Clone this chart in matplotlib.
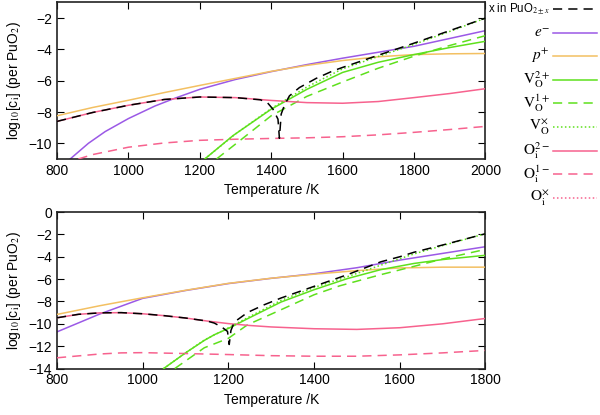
import numpy as np
import matplotlib
matplotlib.use("Agg")
import matplotlib.pyplot as plt
from matplotlib.lines import Line2D

plt.rcParams["font.family"] = ["Liberation Sans", "DejaVu Sans"]
plt.rcParams["mathtext.fontset"] = "stix"

# ---------------- top panel (T = 800..2000 K) ----------------
T_x_top = [800, 900, 1000, 1100, 1200, 1300, 1370, 1390, 1405, 1419, 1423, 1428, 1437, 1451,
           1479, 1526, 1572, 1600, 1700, 1800, 1900, 2000]
x_top = [-8.60, -8.03, -7.57, -7.20, -7.04, -7.08, -7.22, -7.42, -7.82, -8.46, -9.68, -8.13, -7.57,
         -6.97, -6.44, -5.85, -5.38, -5.15, -4.37, -3.60, -2.80, -2.00]
T_e_top = [837, 888, 935, 1000, 1074, 1130, 1200, 1300, 1400, 1500, 1600, 1700, 1800, 1900, 2000]
e_top = [-11.0, -10.0, -9.25, -8.42, -7.62, -7.12, -6.55, -5.92, -5.42, -4.97, -4.56, -4.18, -3.80,
         -3.30, -2.80]
T_p_top = [800, 900, 1000, 1100, 1200, 1300, 1400, 1500, 1600, 1700, 1800, 1900, 2000]
p_top = [-8.24, -7.71, -7.25, -6.76, -6.30, -5.85, -5.40, -5.02, -4.71, -4.47, -4.33, -4.28, -4.26]
T_v2_top = [1214, 1293, 1400, 1500, 1600, 1700, 1800, 1900, 2000]
v2_top = [-11.0, -9.51, -7.82, -6.55, -5.47, -4.82, -4.33, -3.88, -3.48]
T_v1_top = [1247, 1300, 1400, 1500, 1600, 1700, 1800, 1900, 2000]
v1_top = [-11.0, -10.05, -8.24, -7.00, -6.08, -5.20, -4.43, -3.75, -3.12]
T_v0_top = [1214, 1300, 1400, 1500, 1600, 1700, 1800, 1900, 2000]
v0_top = [-11.0, -9.40, -7.78, -6.40, -5.24, -4.45, -3.68, -2.85, -2.00]
T_o2_top = [800, 900, 1000, 1100, 1200, 1300, 1400, 1500, 1600, 1700, 1800, 1900, 2000]
o2_top = [-8.60, -8.03, -7.57, -7.20, -7.04, -7.08, -7.26, -7.40, -7.44, -7.33, -7.08, -6.82, -6.51]
T_o1_top = [860, 900, 1000, 1100, 1200, 1300, 1400, 1500, 1600, 1700, 1800, 1900, 2000]
o1_top = [-11.0, -10.72, -10.25, -9.98, -9.81, -9.74, -9.69, -9.65, -9.58, -9.46, -9.30, -9.12, -8.92]

# ---------------- bottom panel (T = 800..1800 K) ----------------
T_x_bot = [800, 850, 900, 950, 1000, 1050, 1100, 1150, 1167, 1185, 1198, 1202, 1206, 1214, 1245,
           1284, 1323, 1400, 1478, 1556, 1600, 1633, 1700, 1800]
x_bot = [-9.46, -9.15, -9.02, -9.00, -9.10, -9.27, -9.48, -9.75, -9.93, -10.30, -10.68, -11.85,
         -10.60, -9.84, -8.98, -8.29, -7.69, -6.65, -5.60, -4.45, -4.00, -3.60, -2.95, -1.94]
T_e_bot = [800, 900, 1000, 1100, 1200, 1300, 1400, 1500, 1600, 1700, 1800]
e_bot = [-10.72, -9.12, -7.72, -7.02, -6.40, -5.93, -5.52, -4.98, -4.30, -3.70, -3.10]
T_p_bot = [800, 900, 1000, 1100, 1200, 1300, 1400, 1500, 1600, 1700, 1800]
p_bot = [-9.16, -8.38, -7.67, -7.00, -6.38, -5.92, -5.56, -5.24, -5.00, -4.93, -4.93]
T_v2_bot = [1049, 1100, 1144, 1167, 1202, 1245, 1323, 1400, 1478, 1556, 1633, 1700, 1800]
v2_bot = [-14.0, -12.6, -11.48, -10.98, -10.38, -9.54, -8.05, -6.95, -5.95, -5.15, -4.60, -4.25, -3.87]
T_v1_bot = [1075, 1144, 1200, 1245, 1323, 1400, 1460, 1556, 1633, 1700, 1800]
v1_bot = [-14.0, -12.14, -11.30, -10.08, -8.74, -7.40, -6.60, -5.60, -4.86, -4.20, -3.34]
T_v0_bot = [1049, 1100, 1144, 1202, 1245, 1323, 1400, 1478, 1556, 1633, 1700, 1800]
v0_bot = [-14.0, -12.6, -11.45, -10.32, -9.45, -7.90, -6.75, -5.78, -4.75, -3.75, -3.00, -1.94]
T_o2_bot = [800, 850, 900, 950, 1000, 1050, 1100, 1150, 1200, 1250, 1300, 1400, 1500, 1600, 1700, 1800]
o2_bot = [-9.46, -9.15, -9.02, -9.00, -9.10, -9.27, -9.48, -9.75, -9.98, -10.15, -10.28, -10.44,
          -10.50, -10.35, -10.00, -9.52]
T_o1_bot = [800, 900, 950, 1000, 1100, 1200, 1300, 1400, 1500, 1600, 1700, 1800]
o1_bot = [-13.04, -12.70, -12.60, -12.58, -12.66, -12.75, -12.85, -12.90, -12.90, -12.78, -12.60, -12.38]

labels = [r"x in PuO$_{2\pm x}$", r"$e^{-}$", r"$p^{+}$",
          r"$\mathrm{V}_\mathrm{O}^{2+}$", r"$\mathrm{V}_\mathrm{O}^{1+}$", r"$\mathrm{V}_\mathrm{O}^{\times}$",
          r"$\mathrm{O}_\mathrm{i}^{2-}$", r"$\mathrm{O}_\mathrm{i}^{1-}$", r"$\mathrm{O}_\mathrm{i}^{\times}$"]

c_purple = "#9b59e6"
c_orange = "#f3c062"
c_green = "#5ee01c"
c_pink = "#f7628e"
dash = (0, (6, 4))
dot = (0, (1, 1.6))

# style of each legend entry, in legend order
styles = [("black", dash), (c_purple, "-"), (c_orange, "-"), (c_green, "-"), (c_green, dash),
          (c_green, dot), (c_pink, "-"), (c_pink, dash), (c_pink, dot)]


def draw(ax, d):
    ax.plot(d["e"][0], d["e"][1], color=c_purple, lw=1.1, zorder=2)
    ax.plot(d["p"][0], d["p"][1], color=c_orange, lw=1.1, zorder=3)
    ax.plot(d["v2"][0], d["v2"][1], color=c_green, lw=1.1, zorder=3)
    ax.plot(d["v1"][0], d["v1"][1], color=c_green, lw=1.1, ls=dash, zorder=3)
    ax.plot(d["v0"][0], d["v0"][1], color=c_green, lw=1.1, ls=dot, zorder=4)
    ax.plot(d["o2"][0], d["o2"][1], color=c_pink, lw=1.1, zorder=3)
    ax.plot(d["o1"][0], d["o1"][1], color=c_pink, lw=1.1, ls=dash, zorder=3)
    # O_i^x lies below the plotted range in both panels
    ax.plot(d["x"][0], d["x"][1], color="black", lw=1.1, ls=dash, zorder=5)
    ax.set_xlabel("Temperature /K", fontsize=10, labelpad=4)
    ax.set_ylabel(r"log$_{10}$[c$_\mathrm{i}$] (per PuO$_2$)", fontsize=10, labelpad=4)
    ax.tick_params(direction="in", top=True, right=True, length=5, width=0.8, labelsize=10)
    for s in ax.spines.values():
        s.set_linewidth(1.2)
        s.set_color("#222222")


fig = plt.figure(figsize=(6, 4.15), dpi=100)
ax1 = fig.add_axes([0.095, 0.617, 0.714, 0.377])
ax2 = fig.add_axes([0.095, 0.112, 0.714, 0.377])

top = {"x": (T_x_top, x_top), "e": (T_e_top, e_top), "p": (T_p_top, p_top),
       "v2": (T_v2_top, v2_top), "v1": (T_v1_top, v1_top), "v0": (T_v0_top, v0_top),
       "o2": (T_o2_top, o2_top), "o1": (T_o1_top, o1_top)}
bot = {"x": (T_x_bot, x_bot), "e": (T_e_bot, e_bot), "p": (T_p_bot, p_bot),
       "v2": (T_v2_bot, v2_bot), "v1": (T_v1_bot, v1_bot), "v0": (T_v0_bot, v0_bot),
       "o2": (T_o2_bot, o2_bot), "o1": (T_o1_bot, o1_bot)}

draw(ax1, top)
draw(ax2, bot)

ax1.set_xlim(800, 2000)
ax1.set_ylim(-11, -1)
ax1.set_xticks(np.arange(800, 2001, 200))
ax1.set_yticks(np.arange(-10, -1, 2))
ax2.set_xlim(800, 1800)
ax2.set_ylim(-14, 0)
ax2.set_xticks(np.arange(800, 1801, 200))
ax2.set_yticks(np.arange(-14, 1, 2))

# legend at the right, label right-aligned then a sample line
W, H = 600.0, 415.0
for i, (lab, (col, ls)) in enumerate(zip(labels, styles)):
    yy = 1 - (9 + 23.6 * i) / H
    fs = 8.3 if i == 0 else 11
    fig.text(550 / W, yy, lab, ha="right", va="center", fontsize=fs)
    fig.add_artist(Line2D([553 / W, 597 / W], [yy, yy], color=col, ls=ls, lw=1.1,
                          transform=fig.transFigure))

fig.savefig("out.png", dpi=100)
